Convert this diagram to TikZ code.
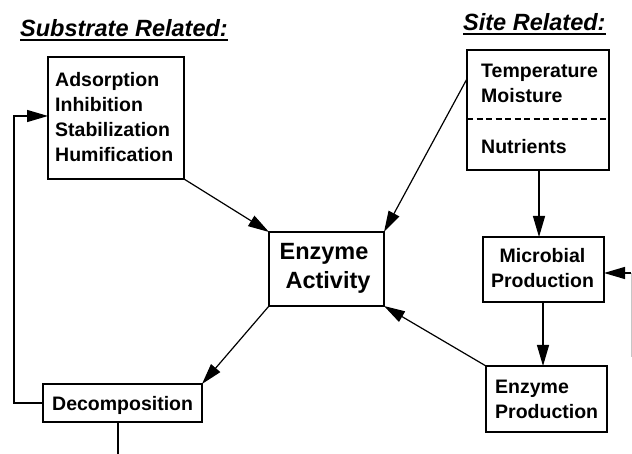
\documentclass[tikz,border=0pt]{standalone}
\usepackage{fontspec}
\setmainfont{Liberation Sans}
\usetikzlibrary{arrows.meta,calc}

\tikzset{
  box/.style={draw, line width=1.8pt, inner sep=0pt, outer sep=0pt},
  lbl/.style={anchor=base west, inner sep=0pt, font=\fontsize{19.5}{23}\selectfont\bfseries},
  clbl/.style={anchor=base, inner sep=0pt, font=\fontsize{19.5}{23}\selectfont\bfseries},
  biglbl/.style={anchor=base, inner sep=0pt, font=\fontsize{23.5}{27}\selectfont\bfseries},
  heading/.style={anchor=base west, inner sep=0pt, font=\fontsize{23.5}{27}\selectfont\bfseries\itshape},
  arr/.style={line width=1.2pt, -{Triangle[length=21pt,width=12pt]}},
  plain/.style={line width=1.2pt}
}

\begin{document}
\begin{tikzpicture}[x=1pt, y=-1pt]
\useasboundingbox (0,0) rectangle (632,454);

% headings
\node[heading] (hsub) at (20,37) {Substrate Related:};
\draw[line width=2pt] ([yshift=-3.5pt]hsub.base west) -- ([yshift=-3.5pt]hsub.base east);
\node[heading] (hsite) at (463,31) {Site Related:};
\draw[line width=2pt] ([yshift=-3pt]hsite.base west) -- ([yshift=-3pt]hsite.base east);

% boxes
\node[box, minimum width=136pt, minimum height=122pt] (ads)  at (116,118) {};
\node[box, minimum width=159pt, minimum height=38pt]  (dec)  at (122.5,403) {};
\node[box, minimum width=115pt, minimum height=74pt]  (act)  at (326.5,269) {};
\node[box, minimum width=142pt, minimum height=120pt] (site) at (538,110) {};
\node[box, minimum width=121pt, minimum height=65pt]  (mic)  at (543.5,269.5) {};
\node[box, minimum width=121pt, minimum height=66pt]  (prod) at (546.5,399) {};

% dashed divider inside the site box
\coordinate (dashy) at (0,119);
\draw[line width=1.3pt, dash pattern=on 6pt off 3.5pt] (site.west |- dashy) -- (site.east |- dashy);

% box texts
\node[lbl] (t1) at (55,87)  {Adsorption};
\node[lbl] (t2) at (55,112) {Inhibition};
\node[lbl] (t3) at (55,137) {Stabilization};
\node[lbl] (t4) at (55,162) {Humification};

\node[lbl] (t5) at (52,410) {Decomposition};

\node[biglbl] (t6) at (324,260) {Enzyme};
\node[biglbl] (t7) at (328,289) {Activity};

\node[lbl] (t8)  at (481,78)  {Temperature};
\node[lbl] (t9)  at (481,103) {Moisture};
\node[lbl] (t10) at (481,154) {Nutrients};

\node[clbl] (t11) at (542.5,263) {Microbial};
\node[clbl] (t12) at (542.5,288) {Production};

\node[lbl] (t13) at (495,393) {Enzyme};
\node[lbl] (t14) at (495,418) {Production};

% connectors
\draw[arr] (ads.south east) -- (act.north west);
\draw[arr] ($(site.north west)!0.24!(site.south west)$) -- (act.north east);
\draw[arr] (site.south -| 539,0) -- (mic.north -| 539,0);
\draw[arr] (mic.south -| 543,0) -- (prod.north -| 543,0);
\draw[arr] (prod.north west) -- (act.south east);
\draw[arr] (act.south west) -- (dec.north east);

% feedback from decomposition back to the substrate box
\coordinate (loopx) at (14,116);
\draw[arr] (dec.west) -| (loopx) -- (loopx -| ads.west);

% free ends leaving the picture
\coordinate (decout) at (118,454);
\draw[plain] (dec.south -| decout) -- (decout);

\coordinate (rtop) at (631,273);
\coordinate (rbot) at (631,357);
\draw[gray!45, line width=0.8pt] (rbot) -- (rtop);
\draw[arr] (rtop) -- (rtop -| mic.east);
\end{tikzpicture}
\end{document}
